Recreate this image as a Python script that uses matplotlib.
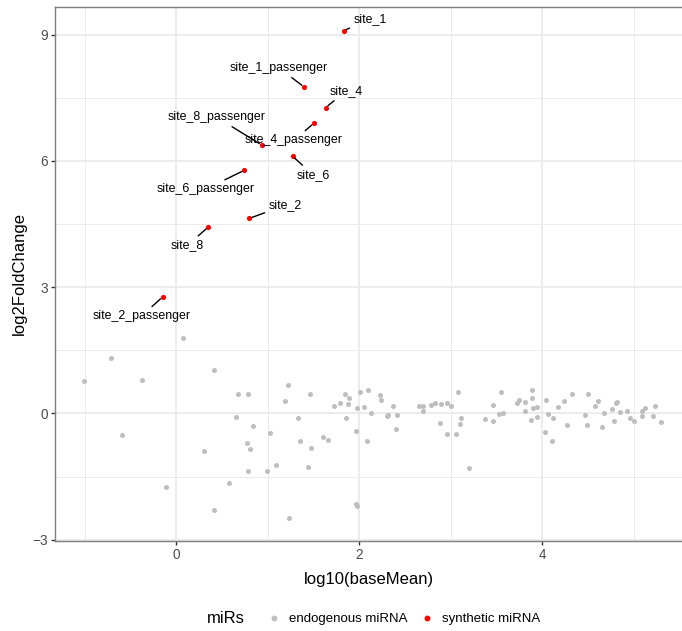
import matplotlib
matplotlib.use("Agg")
import matplotlib.pyplot as plt
from matplotlib.lines import Line2D
from matplotlib.ticker import MultipleLocator

plt.rcParams['font.family'] = ['Liberation Sans', 'DejaVu Sans']

# endogenous miRNA (log10 baseMean, log2FoldChange)
endo_x = [0.080, -0.707, -1.009, -0.375, 0.419, -0.586, -0.109, 0.310, 0.419, 0.579,
          0.678, 0.790, 0.652, 0.838, 0.776, 0.805, 0.787, 0.995, 1.024, 1.089,
          1.228, 1.195, 1.330, 1.359, 1.231, 1.468, 1.479, 1.439, 1.603, 1.658,
          1.727, 1.789, 1.844, 1.894, 1.883, 1.855, 1.975, 2.007, 2.095, 2.051,
          2.131, 1.971, 2.084, 1.967, 1.978,
          2.233, 2.240, 2.306, 2.321, 2.368, 2.415, 2.404, 2.652, 2.696, 2.703,
          2.790, 2.831, 2.900, 2.966, 3.005, 2.882, 2.966, 3.060, 3.086, 3.111,
          3.104, 3.206, 3.377, 3.461, 3.464, 3.526, 3.570, 3.555, 3.723, 3.745,
          3.818, 3.814, 3.887, 3.887, 3.905, 3.942, 3.883, 3.949, 4.040, 4.062,
          4.033, 4.106, 4.124, 4.179, 4.237, 4.270, 4.328, 4.470, 4.492, 4.506,
          4.576, 4.612, 4.652, 4.678, 4.768, 4.805, 4.820, 4.787, 4.852, 4.929,
          4.962, 5.009, 5.089, 5.093, 5.122, 5.235, 5.217, 5.301]
endo_y = [1.80, 1.33, 0.77, 0.80, 1.04, -0.51, -1.75, -0.89, -2.29, -1.65,
          0.46, 0.46, -0.09, -0.30, -0.71, -0.84, -1.37, -1.37, -0.46, -1.22,
          0.68, 0.29, -0.10, -0.66, -2.48, 0.47, -0.83, -1.28, -0.56, -0.63,
          0.17, 0.24, 0.47, 0.36, 0.22, -0.11, 0.12, 0.51, 0.55, 0.15,
          0.01, -0.41, -0.66, -2.15, -2.20,
          0.44, 0.31, -0.06, -0.04, 0.17, -0.04, -0.38, 0.18, 0.17, 0.06,
          0.20, 0.26, 0.22, 0.26, 0.18, -0.22, -0.48, -0.48, 0.52, -0.11,
          -0.25, -1.30, -0.13, -0.17, 0.21, -0.02, 0.02, 0.52, 0.24, 0.33,
          0.27, 0.06, 0.55, 0.37, 0.14, 0.15, -0.15, -0.09, 0.32, -0.02,
          -0.44, -0.65, -0.11, 0.16, 0.29, -0.27, 0.46, -0.04, -0.27, 0.46,
          0.17, 0.30, -0.33, 0.01, 0.10, 0.25, 0.27, -0.17, 0.03, 0.07,
          -0.10, -0.17, -0.07, 0.07, 0.13, 0.17, -0.06, -0.21]

# synthetic miRNA
syn_names = ["site_1", "site_1_passenger", "site_4", "site_4_passenger", "site_8_passenger",
             "site_6", "site_6_passenger", "site_2", "site_8", "site_2_passenger"]
syn_x = [1.833, 1.399, 1.636, 1.508, 0.936, 1.275, 0.747, 0.801, 0.353, -0.146]
syn_y = [9.095, 7.76, 7.27, 6.90, 6.38, 6.11, 5.78, 4.635, 4.43, 2.77]
# repelled label positions
lab_x = [2.12, 1.126, 1.858, 1.29, 0.444, 1.50, 0.324, 1.195, 0.12, -0.38]
lab_y = [9.38, 8.21, 7.66, 6.49, 7.04, 5.67, 5.33, 4.95, 3.99, 2.31]

fig = plt.figure(figsize=(6.82, 6.31), dpi=100)
ax = fig.add_axes([0.081, 0.1426, 0.919, 0.8464])

ax.scatter(endo_x, endo_y, s=13, color="#BEBEBE", linewidths=0, zorder=3)
ax.scatter(syn_x, syn_y, s=14, color="#FF0000", linewidths=0, zorder=4)

for name, px, py, tx, ty in zip(syn_names, syn_x, syn_y, lab_x, lab_y):
    ax.annotate(name, xy=(px, py), xytext=(tx, ty), ha="center", va="center",
                fontsize=8.9, color="black", zorder=5,
                arrowprops=dict(arrowstyle="-", color="black", lw=1.0,
                                shrinkA=1, shrinkB=2))

ax.set_xlim(-1.32, 5.53)
ax.set_ylim(-3.03, 9.66)
ax.xaxis.set_major_locator(MultipleLocator(2))
ax.xaxis.set_minor_locator(MultipleLocator(1))
ax.yaxis.set_major_locator(MultipleLocator(3))
ax.yaxis.set_minor_locator(MultipleLocator(1.5))
ax.grid(True, which="major", color="#EBEBEB", lw=1.3, zorder=0)
ax.grid(True, which="minor", color="#EBEBEB", lw=0.7, zorder=0)
ax.set_axisbelow(True)

for side in ["left", "bottom", "top"]:
    ax.spines[side].set_color("#7F7F7F")
    ax.spines[side].set_linewidth(1.0)
ax.spines["right"].set_visible(False)
ax.tick_params(which="major", length=3, width=1, color="#333333",
               labelsize=9.8, labelcolor="#4D4D4D", pad=2)
ax.tick_params(which="minor", length=0)

ax.set_xlabel("log10(baseMean)", fontsize=12, labelpad=7)
ax.set_ylabel("log2FoldChange", fontsize=12, labelpad=4)

handles = [Line2D([], [], marker="o", ls="", color="#BEBEBE", markersize=3.2),
           Line2D([], [], marker="o", ls="", color="#FF0000", markersize=3.2)]
fig.legend(handles, ["endogenous miRNA", "synthetic miRNA"], ncol=2,
           loc="center", bbox_to_anchor=(0.592, 0.019), frameon=False,
           fontsize=9.5, handlelength=1.0, handletextpad=0.6, columnspacing=1.0)
fig.text(0.331, 0.0205, "miRs", fontsize=12, ha="center", va="center")

fig.savefig("out.png", dpi=100)
